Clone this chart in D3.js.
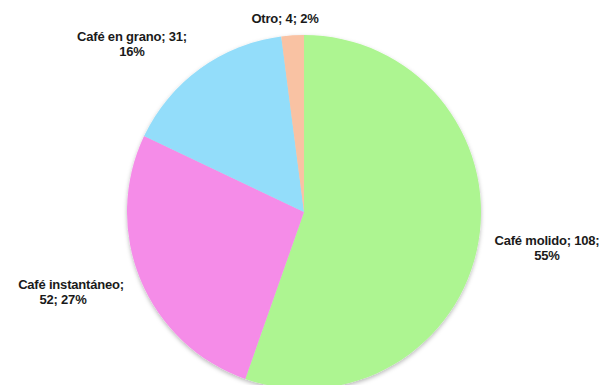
<!DOCTYPE html>
<html>
<head>
<meta charset="utf-8">
<script src="https://cdn.jsdelivr.net/npm/d3@7/dist/d3.min.js"></script>
<style>
  html, body { margin: 0; padding: 0; background: #ffffff; }
  svg { display: block; }
  .lbl { font-family: "Liberation Sans", Arial, sans-serif; font-weight: bold; font-size: 13px; fill: #1a1a1a; letter-spacing: -0.2px; }
</style>
</head>
<body>
<svg id="chart" width="606" height="385"></svg>
<script>
// Coffee consumption by type
const categories = ["Café molido", "Café instantáneo", "Café en grano", "Otro"];
const values = [108, 52, 31, 4];
const colors = ["#adf591", "#f58ce8", "#93ddfa", "#f9c2a3"];
// Label lines and per-line anchor positions [x, baseline y] for each slice
const labelLines = [
  ["Café molido; 108;", "55%"],
  ["Café instantáneo;", "52; 27%"],
  ["Café en grano; 31;", "16%"],
  ["Otro; 4; 2%"]
];
const labelPos = [
  [[547, 245], [547, 260]],
  [[71, 289], [63, 304]],
  [[132, 41], [132, 56]],
  [[285, 23]]
];

const svg = d3.select("#chart");
const cx = 304, cy = 212, r = 177;

const defs = svg.append("defs");
const f = defs.append("filter").attr("id", "shadow")
  .attr("x", "-10%").attr("y", "-10%").attr("width", "120%").attr("height", "120%");
f.append("feDropShadow").attr("dx", 0).attr("dy", 2).attr("stdDeviation", 2.2)
  .attr("flood-color", "#000").attr("flood-opacity", 0.28);

const data = categories.map((c, i) => ({ name: c, value: values[i], color: colors[i], i }));
const pie = d3.pie().value(d => d.value).sort(null);
const arc = d3.arc().innerRadius(0).outerRadius(r);

const g = svg.append("g").attr("transform", `translate(${cx},${cy})`).attr("filter", "url(#shadow)");
g.selectAll("path").data(pie(data)).join("path")
  .attr("d", arc)
  .attr("fill", d => d.data.color);

const labels = svg.append("g");
data.forEach((d, i) => {
  labelLines[i].forEach((line, k) => {
    labels.append("text").attr("class", "lbl")
      .attr("text-anchor", "middle")
      .attr("x", labelPos[i][k][0]).attr("y", labelPos[i][k][1])
      .text(line);
  });
});
</script>
</body>
</html>
